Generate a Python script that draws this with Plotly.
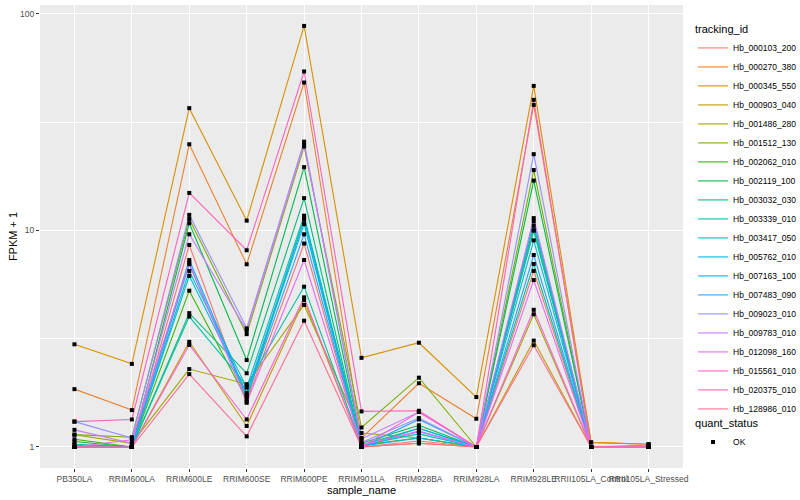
import plotly.graph_objects as go

samples = ["PB350LA", "RRIM600LA", "RRIM600LE", "RRIM600SE", "RRIM600PE", "RRIM901LA",
           "RRIM928BA", "RRIM928LA", "RRIM928LE", "RRII105LA_Control", "RRII105LA_Stressed"]

tracking_ids = ["Hb_000103_200", "Hb_000270_380", "Hb_000345_550", "Hb_000903_040", "Hb_001486_280",
                "Hb_001512_130", "Hb_002062_010", "Hb_002119_100", "Hb_003032_030", "Hb_003339_010",
                "Hb_003417_050", "Hb_005762_010", "Hb_007163_100", "Hb_007483_090", "Hb_009023_010",
                "Hb_009783_010", "Hb_012098_160", "Hb_015561_010", "Hb_020375_010", "Hb_128986_010"]

colors = ["#F8766D", "#EA8331", "#D89000", "#C09B00", "#A3A500", "#7CAE00", "#39B600", "#00BB4E",
          "#00BF7D", "#00C1A3", "#00BFC4", "#00BAE0", "#00B0F6", "#35A2FF", "#9590FF", "#C77CFF",
          "#E76BF3", "#FA62DB", "#FF62BC", "#FF6C91"]

s_000103_200 = [1.00, 1.00, 8.57, 1.62, 8.7, 1.00, 1.066, 1.00, 6.5, 1.00, 1.00]
s_000270_380 = [1.85, 1.48, 25.0, 6.98, 48.2, 1.10, 1.97, 1.35, 38.0, 1.05, 1.03]
s_000345_550 = [2.98, 2.42, 36.7, 11.1, 88.0, 2.58, 3.03, 1.70, 46.5, 1.05, 1.03]
s_000903_040 = [1.00, 1.00, 3.06, 1.25, 4.77, 1.00, 1.04, 1.00, 3.1, 1.00, 1.00]
s_001486_280 = [1.14, 1.04, 2.29, 1.95, 4.53, 1.16, 1.10, 1.00, 4.1, 1.00, 1.00]
s_001512_130 = [1.14, 1.11, 11.3, 3.32, 24.4, 1.23, 2.09, 1.00, 19.0, 1.00, 1.00]
s_002062_010 = [1.085, 1.00, 5.27, 1.66, 11.4, 1.02, 1.10, 1.00, 10.0, 1.00, 1.00]
s_002119_100 = [1.06, 1.00, 10.8, 2.52, 19.6, 1.04, 1.26, 1.00, 17.0, 1.00, 1.00]
s_003032_030 = [1.03, 1.00, 4.15, 2.19, 14.1, 1.02, 1.22, 1.00, 10.5, 1.00, 1.00]
s_003339_010 = [1.00, 1.00, 4.00, 1.92, 5.5, 1.01, 1.18, 1.00, 7.0, 1.00, 1.00]
s_003417_050 = [1.02, 1.00, 6.50, 1.88, 11.7, 1.02, 1.15, 1.00, 10.0, 1.00, 1.00]
s_005762_010 = [1.00, 1.00, 6.17, 1.78, 11.2, 1.01, 1.10, 1.00, 9.0, 1.00, 1.00]
s_007163_100 = [1.00, 1.00, 7.30, 1.74, 10.7, 1.00, 1.22, 1.00, 11.0, 1.00, 1.00]
s_007483_090 = [1.00, 1.00, 6.98, 1.70, 9.6, 1.00, 1.34, 1.00, 7.7, 1.00, 1.00]
s_009023_010 = [1.31, 1.10, 11.8, 3.53, 25.7, 1.05, 1.36, 1.00, 22.5, 1.00, 1.00]
s_009783_010 = [1.20, 1.04, 9.6, 3.45, 25.1, 1.09, 1.45, 1.00, 11.4, 1.00, 1.02]
s_012098_160 = [1.00, 1.08, 7.1, 1.60, 7.3, 1.02, 1.18, 1.00, 5.9, 1.00, 1.00]
s_015561_010 = [1.00, 1.00, 2.96, 1.34, 4.91, 1.00, 1.45, 1.00, 4.3, 1.00, 1.00]
s_020375_010 = [1.31, 1.34, 14.9, 8.1, 54.2, 1.46, 1.47, 1.00, 40.1, 1.00, 1.00]
s_128986_010 = [1.00, 1.00, 2.17, 1.12, 3.83, 1.00, 1.04, 1.00, 2.95, 1.00, 1.00]

series = [s_000103_200, s_000270_380, s_000345_550, s_000903_040, s_001486_280,
          s_001512_130, s_002062_010, s_002119_100, s_003032_030, s_003339_010,
          s_003417_050, s_005762_010, s_007163_100, s_007483_090, s_009023_010,
          s_009783_010, s_012098_160, s_015561_010, s_020375_010, s_128986_010]

FONT = "Liberation Sans, Arial, sans-serif"

fig = go.Figure()
for tid, col, vals in zip(tracking_ids, colors, series):
    fig.add_trace(go.Scatter(
        x=samples, y=vals, mode="lines", name=tid,
        line=dict(color=col, width=1.1),
        legend="legend",
    ))

all_x = []
all_y = []
for vals in series:
    all_x.extend(samples)
    all_y.extend(vals)
fig.add_trace(go.Scatter(
    x=all_x, y=all_y, mode="markers", name="OK",
    marker=dict(symbol="square", size=4, color="#000000"),
    legend="legend2",
))

fig.update_layout(
    width=800, height=500,
    margin=dict(l=40, r=117, t=5, b=32, autoexpand=False),
    paper_bgcolor="#FFFFFF",
    plot_bgcolor="#EBEBEB",
    font=dict(family=FONT, size=9, color="#000000"),
    legend=dict(
        x=1.0156, y=0.9695, xanchor="left", yanchor="top",
        font=dict(size=8.5, color="#000000"),
        title=dict(text="tracking_id", font=dict(size=11, color="#000000")),
        itemwidth=30,
        maxheight=460,
        bgcolor="rgba(0,0,0,0)",
    ),
    legend2=dict(
        x=1.0156, y=0.1185, xanchor="left", yanchor="top",
        font=dict(size=8.5, color="#000000"),
        title=dict(text="quant_status", font=dict(size=11, color="#000000")),
        itemwidth=30,
        bgcolor="rgba(0,0,0,0)",
    ),
    showlegend=True,
)

fig.update_xaxes(
    type="category",
    categoryorder="array", categoryarray=samples,
    range=[-0.6, 10.6],
    showgrid=True, gridcolor="#FFFFFF", gridwidth=1,
    zeroline=False, showline=False,
    ticks="outside", ticklen=3, tickcolor="#333333", tickwidth=1,
    tickangle=0,
    tickfont=dict(size=8.5, color="#4D4D4D"),
    title=dict(text="sample_name", font=dict(size=11, color="#000000"), standoff=0),
)

fig.update_yaxes(
    type="log",
    range=[-0.097, 2.041],
    tickvals=[1, 10, 100], ticktext=["1", "10", "100"],
    showgrid=True, gridcolor="#FFFFFF", gridwidth=1.1,
    minor=dict(tickvals=[3.1623, 31.623], showgrid=True, gridcolor="#FFFFFF", gridwidth=0.5, ticks=""),
    zeroline=False, showline=False,
    ticks="outside", ticklen=3, tickcolor="#333333", tickwidth=1,
    tickfont=dict(size=8.5, color="#4D4D4D"),
    title=dict(text="FPKM + 1", font=dict(size=11, color="#000000"), standoff=0),
)

fig.write_html("out.html", config={"displayModeBar": False},
               post_script="document.body.style.margin='0px';")
